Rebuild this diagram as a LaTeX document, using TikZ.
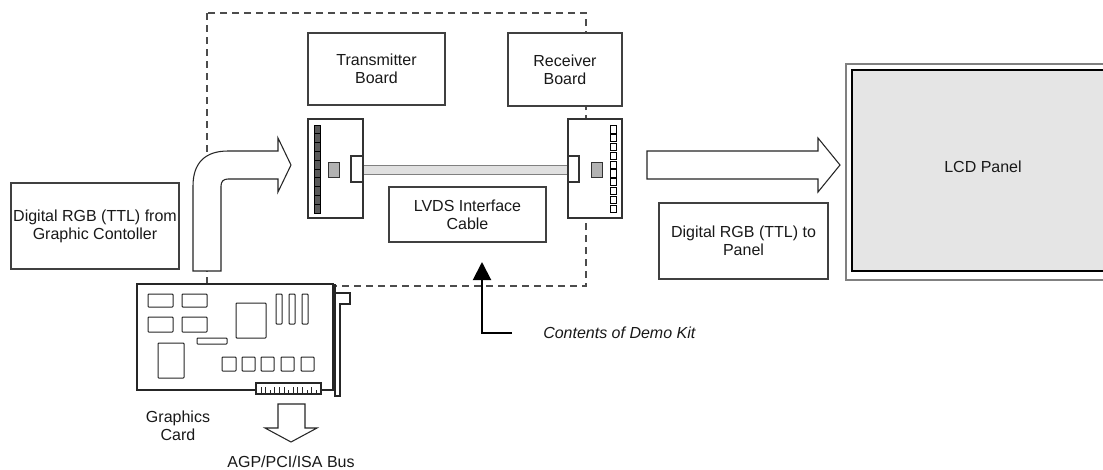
\documentclass[tikz,border=0pt]{standalone}
\usepackage{fontspec}
\setmainfont{Liberation Sans}
\usetikzlibrary{arrows.meta}
\begin{document}
\begin{tikzpicture}[x=0.75pt,y=-0.75pt,
  txt/.style={font=\fontsize{12}{13.7}\selectfont, text=black!90},
  sz/.style 2 args={minimum width=#1*0.75pt, minimum height=#2*0.75pt},
  box/.style={draw=black!75, line width=0.8pt, fill=white, align=center, inner sep=0pt, txt},
  part/.style={draw=black!80, line width=0.8pt, fill=white, inner sep=0pt},
  chip/.style={draw=black!85, line width=0.75pt, fill=white, rounded corners=0.6pt},
  lbl/.style={txt, align=center, inner sep=0pt},
  kit/.style={draw=black!70, line width=0.8pt, dash pattern=on 5.5pt off 3.5pt},
  fat/.style={draw=black!85, line width=0.8pt, fill=white, line join=miter}]
\clip (0,0) rectangle (1103,469);
\fill[white] (0,0) rectangle (1103,469);

% outline of the demo kit
\coordinate (k1) at (207,13);
\coordinate (k2) at (586,286);
\draw[kit] (k1) rectangle (k2);

% text boxes
\node[box, sz={137}{72}] (tx) at (376.5,69) {Transmitter\\Board};
\node[box, sz={114}{73}] (rx) at (565,69.5) {Receiver\\Board};
\node[box, sz={157}{55}] (lvds) at (467.5,214.5) {LVDS Interface\\Cable};
\node[box, sz={168}{86}] (rgbin) at (95,226) {Digital RGB (TTL) from\\Graphic Contoller};
\node[box, sz={169}{76}] (rgbout) at (743.5,241) {Digital RGB (TTL) to\\Panel};

% LCD panel
\node[draw=black!50, line width=0.8pt, fill=white, inner sep=0pt, sz={274}{216}] (lcdo) at (983,172) {};
\node[draw=black, line width=0.8pt, fill=black!10, inner sep=0pt, sz={262}{201}] (lcd) at (983,170.5) {};
\node[lbl] (lcdt) at (983,167) {LCD Panel};

% boards with connectors
\node[part, sz={55}{99}] (txc) at (335.5,168.5) {};
\node[part, sz={54}{99}] (rxc) at (595,168.5) {};
\foreach \i in {0,...,9}
  \draw[draw=black, line width=0.5pt, fill=black!65] (314,125+8.8*\i) rectangle (320,133.8+8.8*\i);
\foreach \i in {0,...,9}
  \draw[draw=black, line width=0.7pt, fill=white] (610.5,125.8+8.8*\i) rectangle (616.5,133+8.8*\i);
\node[draw=black!80, line width=0.7pt, fill=black!30, inner sep=0pt, sz={11}{15}] (txg) at (333.5,169.5) {};
\node[draw=black!80, line width=0.7pt, fill=black!30, inner sep=0pt, sz={11}{15}] (rxg) at (596.5,169.5) {};
\node[draw=black!50, line width=0.7pt, fill=black!12, inner sep=0pt, sz={205}{9}] (cab) at (465.5,169.5) {};
\node[part, sz={12}{26}] (txp) at (357,169) {};
\node[part, sz={11}{26}] (rxp) at (573.5,169) {};

% bent arrow into the transmitter
\draw[fat] (193,271) -- (193,186) .. controls (193,163) and (205,151) .. (228,151) -- (278,151)
  -- (278,138) -- (291,165) -- (278,192) -- (278,179) -- (228,179)
  .. controls (223.5,179) and (221,181.5) .. (221,186) -- (221,271) -- cycle;

% straight arrow to the panel
\draw[fat] (647,151) -- (818,151) -- (818,138) -- (840,165) -- (818,192) -- (818,179) -- (647,179) -- cycle;

% graphics card
\node[part, draw=black!85, sz={196}{106}] (card) at (235,337) {};
\draw[fat, fill=none] (335,284) -- (335,396) -- (340,396) -- (340,304) -- (350,304) -- (350,293) -- (335,293);
\foreach \a/\b/\c/\d in {148/294/173/307, 182/294/207/307, 148/317/173/332, 182/317/207/332,
    236/303/266/338, 276/294/282/324, 289/294/295/324, 302/294/308/324, 197/338/227/344,
    158/343/184/378, 222/357/236/371, 242/357/255/371, 261/357/274/371, 281/357/294/371, 301/357/314/371}
  \draw[chip] (\a,\b) rectangle (\c,\d);
\node[part, draw=black!85, sz={65}{11}] (edge) at (288.5,388.5) {};
\foreach \i/\h in {0/6,1/6,2/3,3/6,4/6,5/6,6/3,7/6,8/6,9/6,10/3,11/6,12/3}
  \draw[black!85, line width=0.6pt] (261+4.6*\i,393) -- ++(0,-\h);

% bus arrow
\draw[fat] (278,404) -- (305,404) -- (305,428) -- (317,428) -- (291,442) -- (265,428) -- (278,428) -- cycle;
\node[lbl] (gclbl) at (178,426) {Graphics\\Card};
\node[lbl] (buslbl) at (291,461.5) {AGP/PCI/ISA Bus};

% pointer to the demo kit
\node[lbl, anchor=west, font=\fontsize{12}{13.7}\selectfont\itshape] (demo) at (543,333) {Contents of Demo Kit};
\coordinate (lineend) at (512,333);
\coordinate (bend) at (482,333);
\coordinate (kittip) at (482,262);
\draw[black, line width=1.5pt, line join=miter, -{Triangle[width=13.5pt,length=13.5pt]}] (lineend) -- (bend) -- (kittip);
\end{tikzpicture}
\end{document}
